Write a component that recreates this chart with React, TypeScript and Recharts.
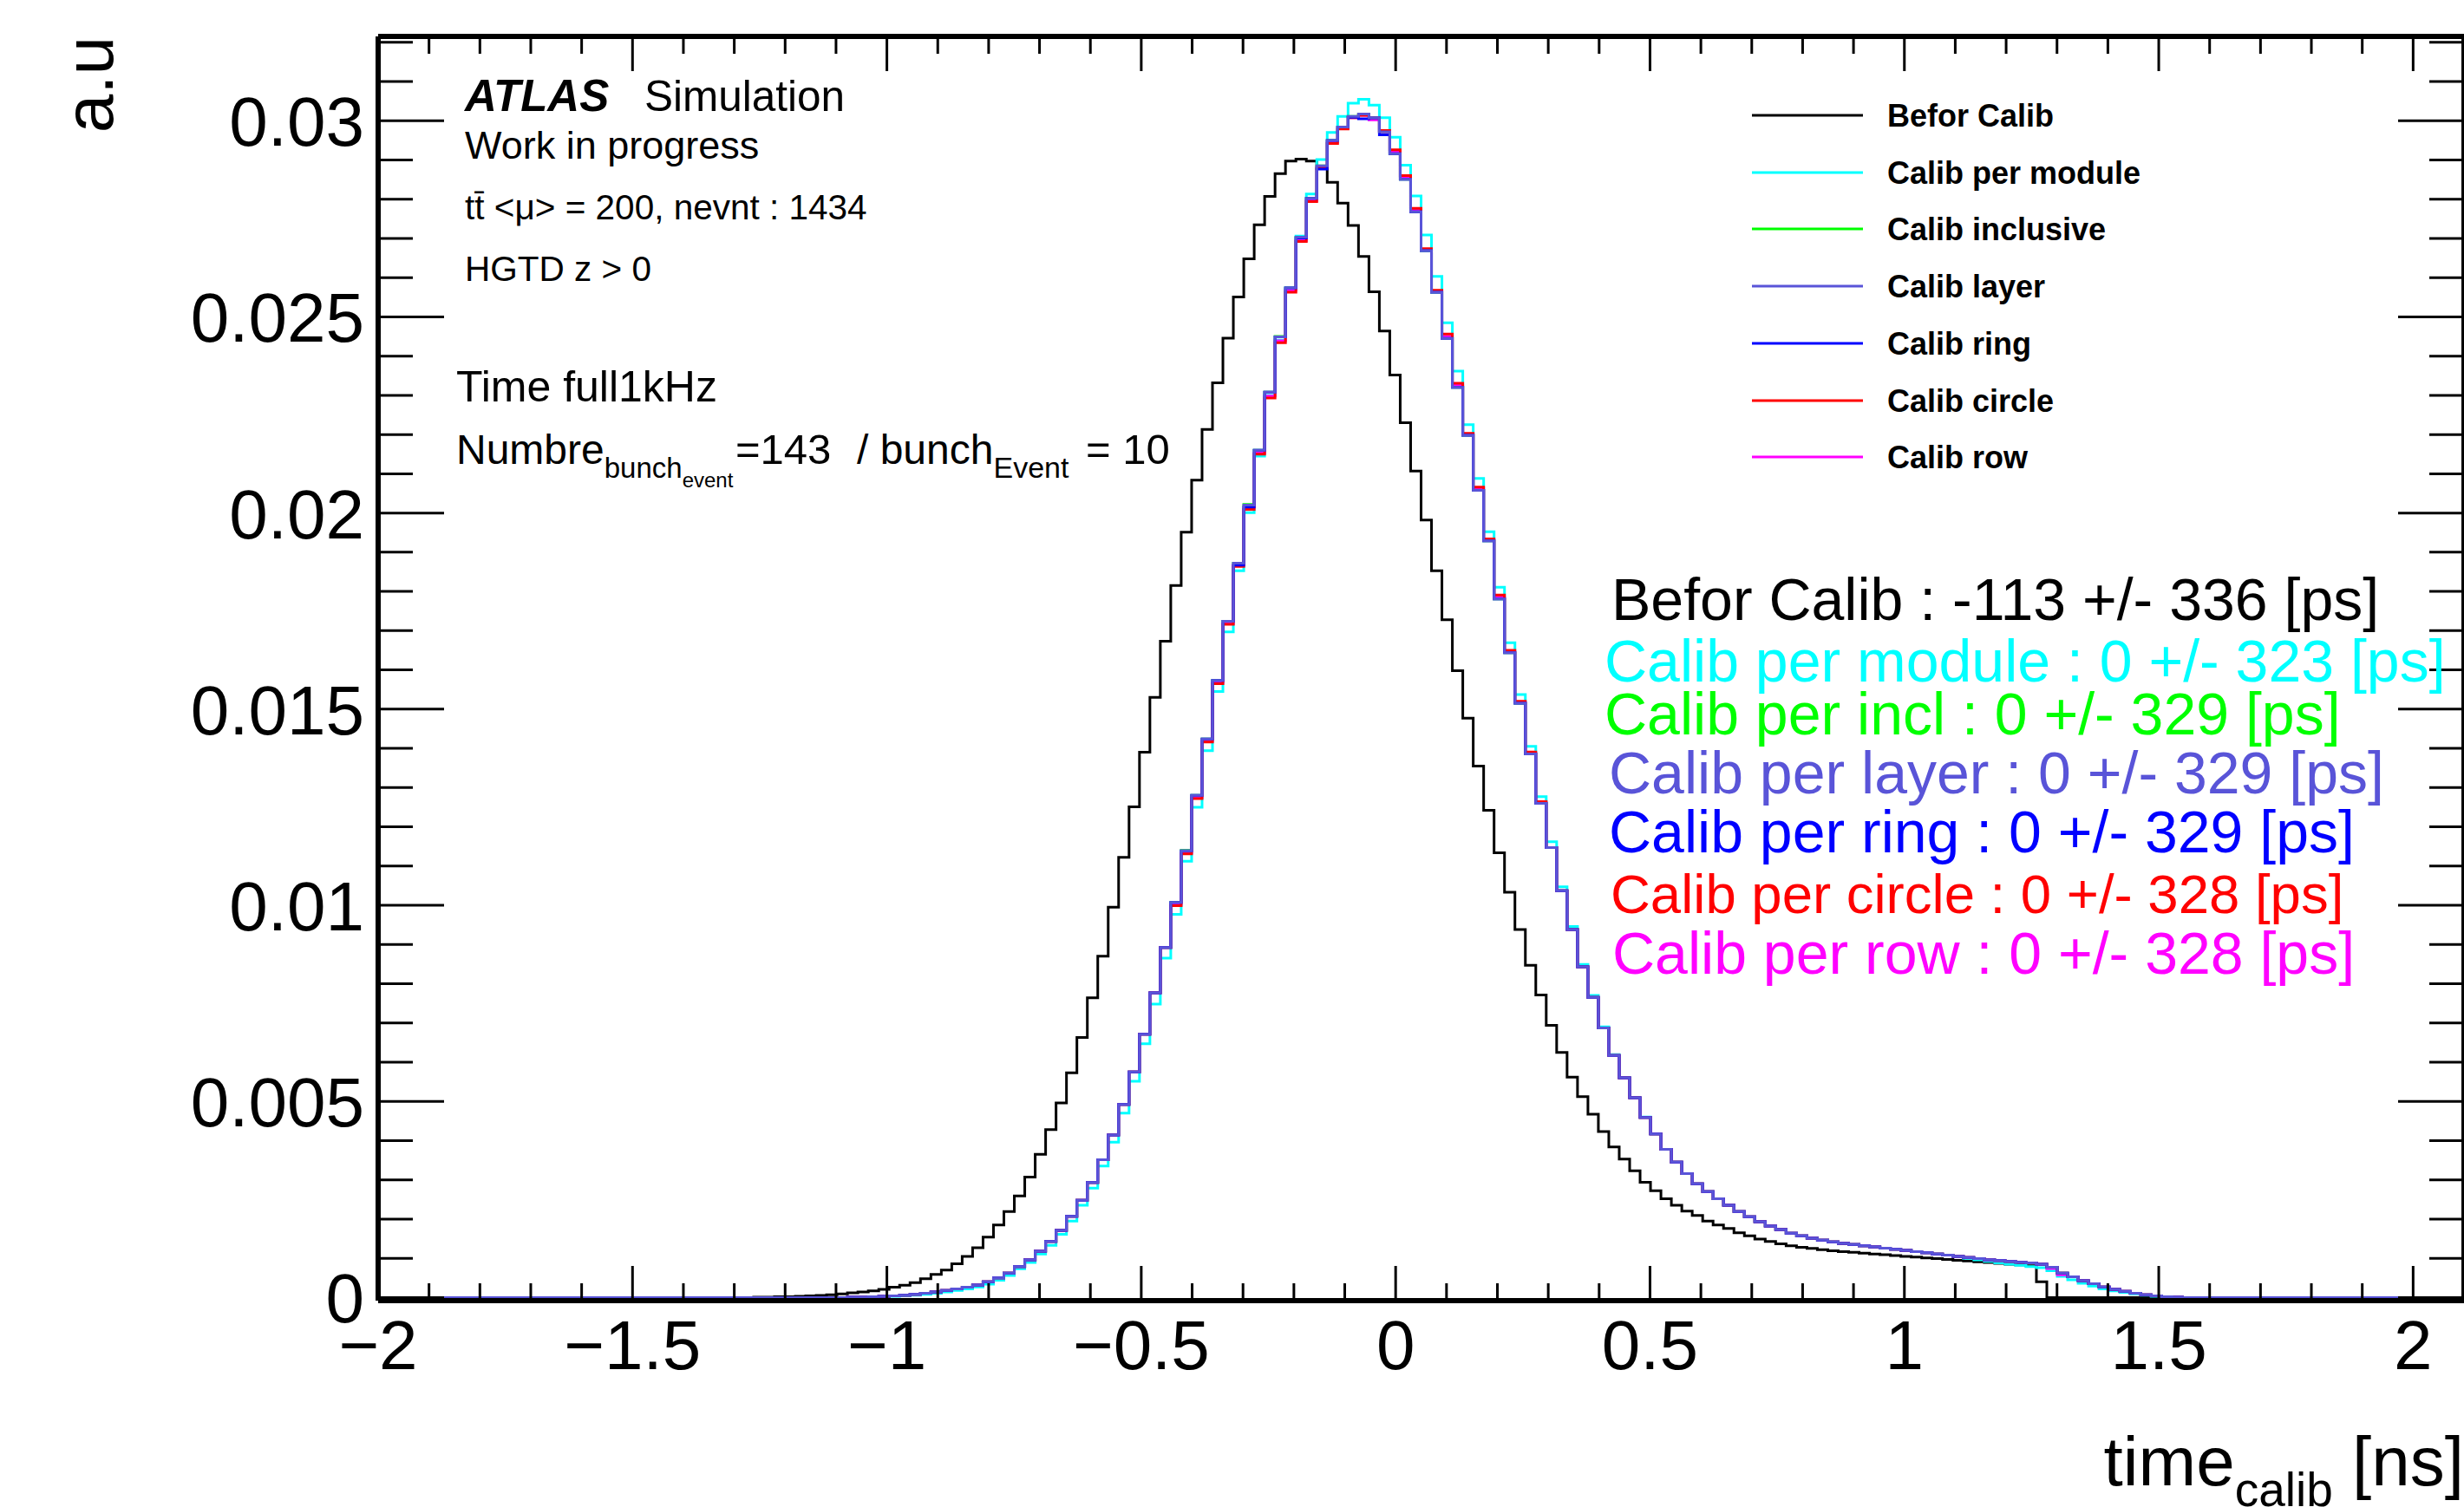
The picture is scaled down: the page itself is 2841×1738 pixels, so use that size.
import React from 'react';
import { LineChart, Line, XAxis, YAxis } from 'recharts';

// histogram binning: 200 bins over [-2, 2.1] ns
const BIN_LO = -2;
const BIN_W = 0.0205;
const N_BINS = 200;
const FIRST_BIN = 36; // every array below starts at this bin, values in units of 1e-3

const beforCalib = [
  0.01, 0.01, 0.02, 0.02, 0.03, 0.04, 0.05, 0.07, 0.09, 0.12,
  0.14, 0.17, 0.21, 0.26, 0.31, 0.38, 0.48, 0.59, 0.70, 0.86,
  1.05, 1.27, 1.54, 1.85, 2.19, 2.59, 3.07, 3.65, 4.28, 4.96,
  5.73, 6.63, 7.64, 8.70, 9.95, 11.22, 12.51, 13.90, 15.30, 16.73,
  18.15, 19.51, 20.84, 22.13, 23.32, 24.46, 25.51, 26.48, 27.35, 28.07,
  28.65, 28.97, 29.02, 28.97, 28.78, 28.43, 27.90, 27.33, 26.54, 25.64,
  24.64, 23.52, 22.30, 21.07, 19.82, 18.53, 17.28, 15.98, 14.77, 13.55,
  12.42, 11.34, 10.33, 9.38, 8.47, 7.71, 6.94, 6.25, 5.62, 5.12,
  4.67, 4.23, 3.84, 3.53, 3.23, 2.94, 2.72, 2.52, 2.35, 2.20,
  2.09, 1.95, 1.85, 1.76, 1.65, 1.57, 1.49, 1.43, 1.37, 1.32,
  1.28, 1.25, 1.22, 1.19, 1.17, 1.15, 1.13, 1.11, 1.09, 1.07,
  1.05, 1.03, 1.01, 0.99, 0.97, 0.95, 0.93, 0.91, 0.89, 0.87,
  0.85, 0.83, 0.81, 0.40, 0, 0, 0, 0, 0, 0,
  0, 0, 0, 0, 0, 0, 0,
];

const calibModule = [
  0, 0, 0, 0, 0, 0, 0, 0, 0, 0,
  0, 0.01, 0.02, 0.03, 0.04, 0.06, 0.08, 0.11, 0.14, 0.18,
  0.22, 0.27, 0.34, 0.44, 0.56, 0.73, 0.89, 1.11, 1.33, 1.61,
  1.95, 2.35, 2.79, 3.35, 3.96, 4.70, 5.51, 6.47, 7.48, 8.65,
  9.77, 11.12, 12.50, 13.94, 15.45, 16.97, 18.53, 20.01, 21.45, 23.00,
  24.41, 25.70, 27.06, 28.13, 29.01, 29.70, 30.11, 30.45, 30.55, 30.40,
  30.08, 29.58, 28.87, 28.08, 27.09, 26.03, 24.85, 23.62, 22.25, 20.88,
  19.52, 18.11, 16.69, 15.37, 14.05, 12.77, 11.62, 10.47, 9.46, 8.49,
  7.70, 6.90, 6.19, 5.61, 5.10, 4.60, 4.17, 3.78, 3.45, 3.16,
  2.90, 2.70, 2.52, 2.35, 2.19, 2.06, 1.93, 1.82, 1.73, 1.64,
  1.57, 1.51, 1.46, 1.42, 1.38, 1.35, 1.32, 1.29, 1.26, 1.23,
  1.20, 1.17, 1.14, 1.11, 1.08, 1.04, 1.00, 0.96, 0.92, 0.88,
  0.85, 0.82, 0.79, 0.76, 0.68, 0.54, 0.45, 0.36, 0.29, 0.22,
  0.17, 0.13, 0.09, 0.06, 0.03, 0.02, 0.01,
];

const calibInclusive = [
  0, 0, 0, 0, 0, 0, 0, 0, 0, 0.01,
  0.01, 0.02, 0.03, 0.04, 0.06, 0.08, 0.11, 0.14, 0.18, 0.22,
  0.26, 0.32, 0.40, 0.50, 0.62, 0.79, 0.96, 1.18, 1.43, 1.71,
  2.07, 2.48, 2.93, 3.51, 4.14, 4.92, 5.75, 6.71, 7.77, 8.92,
  10.07, 11.40, 12.80, 14.24, 15.73, 17.24, 18.72, 20.22, 21.60, 23.08,
  24.50, 25.74, 27.03, 28.02, 28.85, 29.50, 29.84, 30.11, 30.17, 30.07,
  29.72, 29.16, 28.51, 27.68, 26.69, 25.63, 24.45, 23.20, 21.98, 20.58,
  19.29, 17.81, 16.44, 15.15, 13.86, 12.60, 11.47, 10.37, 9.38, 8.43,
  7.65, 6.87, 6.17, 5.60, 5.09, 4.59, 4.17, 3.78, 3.45, 3.16,
  2.90, 2.70, 2.52, 2.35, 2.19, 2.06, 1.93, 1.82, 1.73, 1.64,
  1.57, 1.51, 1.46, 1.42, 1.38, 1.35, 1.32, 1.29, 1.26, 1.23,
  1.20, 1.17, 1.14, 1.11, 1.08, 1.05, 1.02, 0.99, 0.96, 0.94,
  0.92, 0.90, 0.88, 0.85, 0.77, 0.62, 0.53, 0.43, 0.35, 0.27,
  0.21, 0.16, 0.11, 0.07, 0.04, 0.02, 0.01,
];

const calibLayer = [
  0, 0, 0, 0, 0, 0, 0, 0, 0, 0.01,
  0.01, 0.02, 0.03, 0.04, 0.06, 0.08, 0.11, 0.14, 0.18, 0.22,
  0.26, 0.32, 0.40, 0.50, 0.62, 0.79, 0.96, 1.18, 1.43, 1.71,
  2.07, 2.48, 2.93, 3.51, 4.14, 4.92, 5.75, 6.71, 7.77, 8.92,
  10.07, 11.39, 12.80, 14.24, 15.73, 17.24, 18.72, 20.20, 21.60, 23.08,
  24.49, 25.74, 27.03, 28.02, 28.85, 29.50, 29.84, 30.11, 30.17, 30.07,
  29.72, 29.16, 28.51, 27.68, 26.69, 25.63, 24.45, 23.20, 21.98, 20.58,
  19.29, 17.81, 16.44, 15.15, 13.86, 12.60, 11.47, 10.37, 9.38, 8.43,
  7.65, 6.87, 6.17, 5.60, 5.09, 4.59, 4.17, 3.78, 3.45, 3.16,
  2.90, 2.70, 2.52, 2.35, 2.19, 2.06, 1.93, 1.82, 1.73, 1.64,
  1.57, 1.51, 1.46, 1.42, 1.38, 1.35, 1.32, 1.29, 1.26, 1.23,
  1.20, 1.17, 1.14, 1.11, 1.08, 1.05, 1.02, 0.99, 0.96, 0.94,
  0.92, 0.90, 0.88, 0.85, 0.77, 0.62, 0.53, 0.43, 0.35, 0.27,
  0.21, 0.16, 0.11, 0.07, 0.04, 0.02, 0.01,
];

const calibRing = [
  0, 0, 0, 0, 0, 0, 0, 0, 0, 0.01,
  0.01, 0.02, 0.03, 0.04, 0.06, 0.08, 0.11, 0.14, 0.18, 0.22,
  0.26, 0.32, 0.40, 0.50, 0.62, 0.79, 0.96, 1.18, 1.43, 1.71,
  2.07, 2.48, 2.93, 3.51, 4.14, 4.92, 5.75, 6.71, 7.77, 8.92,
  10.07, 11.39, 12.80, 14.24, 15.73, 17.24, 18.67, 20.15, 21.60, 23.08,
  24.49, 25.74, 27.01, 28.02, 28.77, 29.50, 29.84, 30.09, 30.05, 30.07,
  29.64, 29.16, 28.51, 27.68, 26.69, 25.63, 24.45, 23.20, 21.98, 20.58,
  19.29, 17.81, 16.44, 15.15, 13.86, 12.60, 11.47, 10.37, 9.38, 8.43,
  7.65, 6.87, 6.17, 5.60, 5.09, 4.59, 4.17, 3.78, 3.45, 3.16,
  2.90, 2.70, 2.52, 2.35, 2.19, 2.06, 1.93, 1.82, 1.73, 1.64,
  1.57, 1.51, 1.46, 1.42, 1.38, 1.35, 1.32, 1.29, 1.26, 1.23,
  1.20, 1.17, 1.14, 1.11, 1.08, 1.05, 1.02, 0.99, 0.96, 0.94,
  0.92, 0.90, 0.88, 0.85, 0.77, 0.62, 0.53, 0.43, 0.35, 0.27,
  0.21, 0.16, 0.11, 0.07, 0.04, 0.02, 0.01,
];

const calibCircle = [
  0, 0, 0, 0, 0, 0, 0, 0, 0, 0.01,
  0.01, 0.02, 0.03, 0.04, 0.06, 0.08, 0.11, 0.14, 0.18, 0.22,
  0.26, 0.32, 0.40, 0.50, 0.62, 0.79, 0.96, 1.18, 1.43, 1.71,
  2.07, 2.48, 2.93, 3.51, 4.14, 4.92, 5.75, 6.71, 7.77, 8.92,
  9.99, 11.31, 12.72, 14.16, 15.65, 17.16, 18.64, 20.09, 21.50, 22.93,
  24.34, 25.63, 26.92, 27.94, 28.80, 29.42, 29.79, 30.08, 30.14, 30.07,
  29.75, 29.26, 28.60, 27.77, 26.74, 25.68, 24.56, 23.31, 22.03, 20.66,
  19.34, 17.91, 16.50, 15.20, 13.91, 12.64, 11.47, 10.37, 9.38, 8.43,
  7.65, 6.87, 6.17, 5.60, 5.09, 4.59, 4.17, 3.78, 3.45, 3.16,
  2.90, 2.70, 2.52, 2.35, 2.19, 2.06, 1.93, 1.82, 1.73, 1.64,
  1.57, 1.51, 1.46, 1.42, 1.38, 1.35, 1.32, 1.29, 1.26, 1.23,
  1.20, 1.17, 1.14, 1.11, 1.08, 1.05, 1.02, 0.99, 0.96, 0.94,
  0.92, 0.90, 0.88, 0.85, 0.77, 0.62, 0.53, 0.43, 0.35, 0.27,
  0.21, 0.16, 0.11, 0.07, 0.04, 0.02, 0.01,
];

const calibRow = [
  0, 0, 0, 0, 0, 0, 0, 0, 0, 0.01,
  0.01, 0.02, 0.03, 0.04, 0.06, 0.08, 0.11, 0.14, 0.18, 0.22,
  0.26, 0.32, 0.40, 0.50, 0.62, 0.79, 0.96, 1.18, 1.43, 1.71,
  2.07, 2.48, 2.93, 3.51, 4.14, 4.92, 5.75, 6.71, 7.77, 8.92,
  10.02, 11.34, 12.75, 14.19, 15.68, 17.18, 18.67, 20.15, 21.53, 22.98,
  24.39, 25.68, 26.95, 27.97, 28.82, 29.46, 29.81, 30.08, 30.14, 30.02,
  29.72, 29.21, 28.55, 27.72, 26.72, 25.66, 24.50, 23.26, 22.01, 20.62,
  19.32, 17.86, 16.47, 15.17, 13.88, 12.62, 11.47, 10.37, 9.38, 8.43,
  7.65, 6.87, 6.17, 5.60, 5.09, 4.59, 4.17, 3.78, 3.45, 3.16,
  2.90, 2.70, 2.52, 2.35, 2.19, 2.06, 1.93, 1.82, 1.73, 1.64,
  1.57, 1.51, 1.46, 1.42, 1.38, 1.35, 1.32, 1.29, 1.26, 1.23,
  1.20, 1.17, 1.14, 1.11, 1.08, 1.05, 1.02, 0.99, 0.96, 0.94,
  0.92, 0.90, 0.88, 0.85, 0.74, 0.58, 0.53, 0.43, 0.35, 0.27,
  0.21, 0.16, 0.11, 0.07, 0.04, 0.02, 0.01,
];

const xTicks = [
  -2, -1.9, -1.8, -1.7, -1.6, -1.5, -1.4, -1.3, -1.2, -1.1,
  -1, -0.9, -0.8, -0.7, -0.6, -0.5, -0.4, -0.3, -0.2, -0.1,
  0, 0.1, 0.2, 0.3, 0.4, 0.5, 0.6, 0.7, 0.8, 0.9,
  1, 1.1, 1.2, 1.3, 1.4, 1.5, 1.6, 1.7, 1.8, 1.9, 2, 2.1,
];
const xTickLabels: Record<string, string> = {
  '-2': '\u22122', '-1.5': '\u22121.5', '-1': '\u22121', '-0.5': '\u22120.5',
  '0': '0', '0.5': '0.5', '1': '1', '1.5': '1.5', '2': '2',
};

const yTicks = [
  0, 0.001, 0.002, 0.003, 0.004, 0.005, 0.006, 0.007, 0.008, 0.009,
  0.01, 0.011, 0.012, 0.013, 0.014, 0.015, 0.016, 0.017, 0.018, 0.019,
  0.02, 0.021, 0.022, 0.023, 0.024, 0.025, 0.026, 0.027, 0.028, 0.029,
  0.03, 0.031, 0.032,
];
const yTickLabels: Record<string, string> = {
  '0': '0', '0.005': '0.005', '0.01': '0.01', '0.015': '0.015',
  '0.02': '0.02', '0.025': '0.025', '0.03': '0.03',
};

const series = [
  { key: 'befor', name: 'Befor Calib', color: '#000000', vals: beforCalib, stat: 'Befor Calib : -113 +/- 336 [ps]' },
  { key: 'module', name: 'Calib per module', color: '#00ffff', vals: calibModule, stat: 'Calib per module : 0 +/- 323 [ps]' },
  { key: 'incl', name: 'Calib inclusive', color: '#00ff00', vals: calibInclusive, stat: 'Calib per incl : 0 +/- 329 [ps]' },
  { key: 'layer', name: 'Calib layer', color: '#5954d8', vals: calibLayer, stat: 'Calib per layer : 0 +/- 329 [ps]' },
  { key: 'ring', name: 'Calib ring', color: '#0000ff', vals: calibRing, stat: 'Calib per ring : 0 +/- 329 [ps]' },
  { key: 'circle', name: 'Calib circle', color: '#ff0000', vals: calibCircle, stat: 'Calib per circle : 0 +/- 328 [ps]' },
  { key: 'row', name: 'Calib row', color: '#ff00ff', vals: calibRow, stat: 'Calib per row : 0 +/- 328 [ps]' },
];

// order in which the outlines are drawn (last one ends up on top)
const drawOrder = ['befor', 'module', 'incl', 'row', 'circle', 'ring', 'layer'];

const FONT = '"Liberation Sans", Arial, Helvetica, sans-serif';
const Y_MIN = -0.00008; // lets the zero-level outline sit just above the frame line
const Y_MAX = 0.03215;

// one row per bin edge, stepAfter draws the histogram outline
const rows: any[] = [];
for (let k = 0; k <= N_BINS; k++) {
  const b = Math.min(k, N_BINS - 1);
  const row: any = { x: +(BIN_LO + k * BIN_W).toFixed(4) };
  series.forEach(s => {
    const i = b - FIRST_BIN;
    row[s.key] = (i >= 0 && i < s.vals.length ? s.vals[i] : 0) / 1000;
  });
  rows.push(row);
}

const keyOf = (v: number) => String(+v.toFixed(4));

const BottomTick = (props: any) => {
  const { x, y, payload } = props;
  const label = xTickLabels[keyOf(payload.value)];
  const major = label !== undefined;
  return (
    <g>
      <line x1={x} x2={x} y1={y} y2={y - (major ? 40 : 20)} stroke="#000" strokeWidth={3} />
      {major && (
        <text x={x} y={y + 79} textAnchor="middle" fontSize={80} fontFamily={FONT} fill="#000">{label}</text>
      )}
    </g>
  );
};

const TopTick = (props: any) => {
  const { x, y, payload } = props;
  const major = xTickLabels[keyOf(payload.value)] !== undefined;
  return <line x1={x} x2={x} y1={y} y2={y + (major ? 40 : 20)} stroke="#000" strokeWidth={3} />;
};

const LeftTick = (props: any) => {
  const { x, y, payload } = props;
  const label = yTickLabels[keyOf(payload.value)];
  const major = label !== undefined;
  return (
    <g>
      <line x1={x} x2={x + (major ? 76 : 40)} y1={y} y2={y} stroke="#000" strokeWidth={3} />
      {major && (
        <text x={x - 16} y={y + 29} textAnchor="end" fontSize={80} fontFamily={FONT} fill="#000">{label}</text>
      )}
    </g>
  );
};

const RightTick = (props: any) => {
  const { x, y, payload } = props;
  const major = yTickLabels[keyOf(payload.value)] !== undefined;
  return <line x1={x} x2={x - (major ? 76 : 40)} y1={y} y2={y} stroke="#000" strokeWidth={3} />;
};

const legendY = [133, 199, 264, 330, 396, 462, 527];
const statY = [715, 786, 847, 915, 983, 1053, 1123];
const statX = [1858, 1850, 1850, 1855, 1855, 1857, 1859];
const statSize = [68, 68, 68, 68, 68, 63.5, 68];

const App: React.FC = () => {
  return (
    <div style={{ position: 'absolute', left: 0, top: 0, width: 2841, height: 1738, overflow: 'hidden', background: '#fff' }}>
      <LineChart width={2842} height={1738} data={rows} margin={{ top: 41, right: 0, bottom: 0, left: 0 }}>
        <XAxis
          dataKey="x"
          type="number"
          domain={[-2, 2.1]}
          allowDataOverflow
          ticks={xTicks}
          interval={0}
          height={238}
          tickLine={false}
          tickSize={0}
          tickMargin={0}
          axisLine={{ stroke: '#000', strokeWidth: 6 }}
          tick={<BottomTick />}
        />
        <XAxis
          xAxisId="t"
          orientation="top"
          dataKey="x"
          type="number"
          domain={[-2, 2.1]}
          allowDataOverflow
          ticks={xTicks}
          interval={0}
          height={1}
          tickLine={false}
          tickSize={0}
          tickMargin={0}
          axisLine={{ stroke: '#000', strokeWidth: 6 }}
          tick={<TopTick />}
        />
        <YAxis
          type="number"
          domain={[Y_MIN, Y_MAX]}
          allowDataOverflow
          ticks={yTicks}
          interval={0}
          width={436}
          tickLine={false}
          tickSize={0}
          tickMargin={0}
          axisLine={{ stroke: '#000', strokeWidth: 6 }}
          tick={<LeftTick />}
        />
        <YAxis
          yAxisId="r"
          orientation="right"
          type="number"
          domain={[Y_MIN, Y_MAX]}
          allowDataOverflow
          ticks={yTicks}
          interval={0}
          width={1}
          tickLine={false}
          tickSize={0}
          tickMargin={0}
          axisLine={{ stroke: '#000', strokeWidth: 6 }}
          tick={<RightTick />}
        />
        <Line
          xAxisId="t"
          yAxisId="r"
          dataKey="befor"
          stroke="none"
          dot={false}
          legendType="none"
          isAnimationActive={false}
        />
        {drawOrder.map(k => {
          const s = series.find(q => q.key === k)!;
          return (
            <Line
              key={s.key}
              type="stepAfter"
              dataKey={s.key}
              name={s.name}
              stroke={s.color}
              strokeWidth={3}
              dot={false}
              activeDot={false}
              isAnimationActive={false}
            />
          );
        })}
      </LineChart>

      <svg
        width={2841}
        height={1738}
        style={{ position: 'absolute', left: 0, top: 0, pointerEvents: 'none' }}
        fontFamily={FONT}
      >
        {/* axis titles */}
        <text x={130} y={42} transform="rotate(-90 130 42)" textAnchor="end" fontSize={80} fill="#000">a.u</text>
        <text x={2841} y={1713} textAnchor="end" fontSize={80} fill="#000">
          time<tspan fontSize={55} dy={24}>calib</tspan><tspan fontSize={80} dy={-24}> [ns]</tspan>
        </text>

        {/* ATLAS label block */}
        <text x={536} y={128} fontSize={51} fontWeight="bold" fontStyle="italic" fill="#000">ATLAS</text>
        <text x={743} y={128} fontSize={49.5} fill="#000">Simulation</text>
        <text x={536} y={183} fontSize={45} fill="#000">Work in progress</text>
        <text x={536} y={253} fontSize={40.5} fill="#000">t{'t\u0304'} &lt;μ&gt; = 200, nevnt : 1434</text>
        <text x={536} y={324} fontSize={40.5} fill="#000">HGTD z &gt; 0</text>
        <text x={526} y={463} fontSize={50} fill="#000">Time full1kHz</text>
        <text x={526} y={535} fontSize={48} fill="#000" style={{ whiteSpace: 'pre' }}>
          Numbre
          <tspan fontSize={33} dy={16}>bunch</tspan>
          <tspan fontSize={24} dy={11}>event</tspan>
          <tspan x={848} fontSize={49} dy={-27}>=143</tspan>
          <tspan x={988} fontSize={48}>/ bunch</tspan>
          <tspan fontSize={34} dy={16}>Event</tspan>
          <tspan x={1252} fontSize={49} dy={-16}>= 10</tspan>
        </text>

        {/* legend */}
        {series.map((s, i) => (
          <g key={s.key}>
            <line x1={2020} x2={2148} y1={legendY[i]} y2={legendY[i]} stroke={s.color} strokeWidth={3} />
            <text x={2176} y={legendY[i] + 13} fontSize={36} fontWeight="bold" fill="#000">{s.name}</text>
          </g>
        ))}

        {/* mean +/- sigma per calibration */}
        {series.map((s, i) => (
          <text key={s.key} x={statX[i]} y={statY[i]} fontSize={statSize[i]} fill={s.color}>{s.stat}</text>
        ))}
      </svg>
    </div>
  );
};

export default App;
